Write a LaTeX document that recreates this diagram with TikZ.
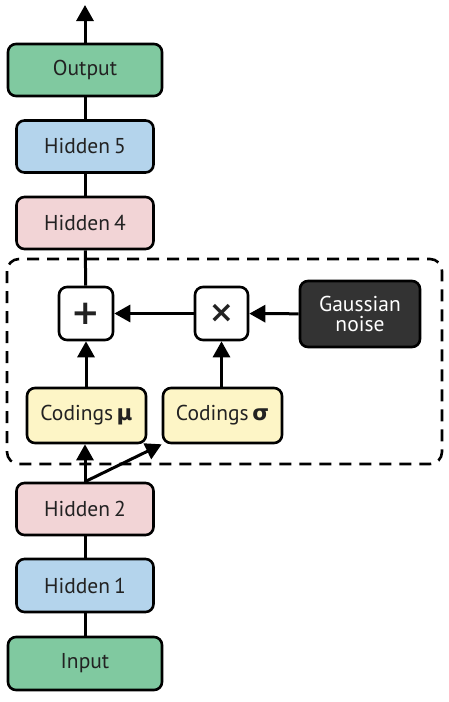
\documentclass[tikz,border=0pt]{standalone}
\usepackage{fontspec}
\setmainfont{PT Sans}
\newfontfamily\dejavu{DejaVu Sans}
\usetikzlibrary{arrows.meta}
\definecolor{cgreen}{HTML}{80C9A0}
\definecolor{cblue}{HTML}{B4D4EC}
\definecolor{cpink}{HTML}{F2D4D6}
\definecolor{cyellow}{HTML}{FDF5C6}
\definecolor{cdark}{HTML}{333333}
\definecolor{ctext}{HTML}{222222}
\begin{document}
\begin{tikzpicture}[x=1pt,y=-1pt,
  box/.style={draw=black,line width=2.6pt,rounded corners=8pt,inner sep=0pt,align=center,
    text=ctext,font=\fontsize{21.5}{22}\selectfont},
  opbox/.style={box,fill=white,minimum width=53pt,minimum height=53pt,font=\fontsize{34}{34}\selectfont\dejavu\bfseries},
  conn/.style={line width=3pt},
  arr/.style={line width=3pt,-{Triangle[width=17pt,length=16pt]}}]
\useasboundingbox (0,0) rectangle (449,702);
\node[box,fill=cgreen,minimum width=154pt,minimum height=52pt] (out) at (85,70) {Output};
\node[box,fill=cblue,minimum width=137pt,minimum height=52pt] (h5) at (85,146.5) {Hidden\hspace{4pt}5};
\node[box,fill=cpink,minimum width=137pt,minimum height=52pt] (h4) at (85,223) {Hidden\hspace{4pt}4};
\node[opbox,minimum width=54pt] (plus) at (86,313.5) {+};
\node[opbox,font=\fontsize{30}{30}\selectfont\dejavu\bfseries] (times) at (221.5,313.5) {×};
\node[box,fill=cdark,text=white,minimum width=120pt,minimum height=66pt] (noise) at (360,314) {Gaussian\\[-2pt]noise};
\node[box,fill=cyellow,minimum width=119pt,minimum height=55pt] (cmu) at (86.5,415.5) {Codings\,{\dejavu\bfseries μ}};
\node[box,fill=cyellow,minimum width=119pt,minimum height=55pt] (csig) at (222.5,415.5) {Codings\,{\dejavu\bfseries σ}};
\node[box,fill=cpink,minimum width=137pt,minimum height=52pt] (h2) at (85,509) {Hidden\hspace{4pt}2};
\node[box,fill=cblue,minimum width=137pt,minimum height=53pt] (h1) at (85,585.5) {Hidden\hspace{4pt}1};
\node[box,fill=cgreen,minimum width=154pt,minimum height=53pt] (in) at (85,663.5) {Input};
\coordinate (top) at (85,5);
\draw[black,line width=2.6pt,dash pattern=on 12pt off 8pt,rounded corners=12pt] (7,259) rectangle (442,464);
\draw[arr] (out.north) -- (top);
\draw[conn] (h5) -- (out);
\draw[conn] (h4) -- (h5);
\draw[conn] (plus) -- (h4);
\draw[arr] (times) -- (plus);
\draw[arr] (noise) -- (times);
\draw[arr] (cmu.north -| plus) -- (plus);
\draw[arr] (csig.north -| times) -- (times);
\draw[arr] (h2.north) -- (cmu.south -| h2.north);
\draw[arr] (h2.north) -- (csig.south west);
\draw[conn] (h1) -- (h2);
\draw[conn] (in) -- (h1);
\end{tikzpicture}
\end{document}
